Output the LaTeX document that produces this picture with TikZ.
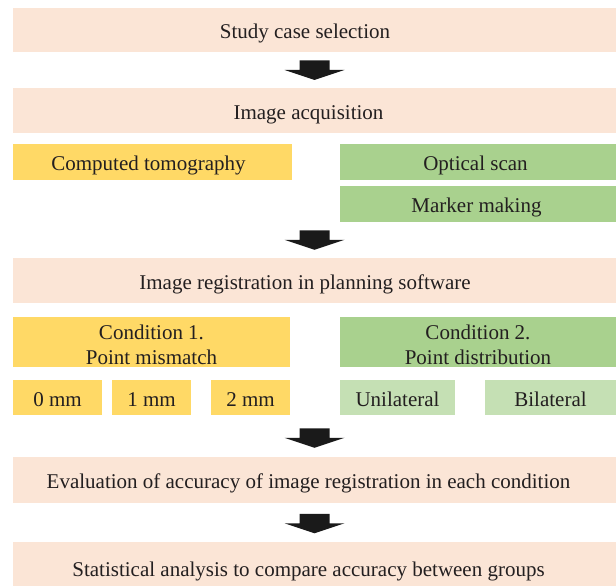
\documentclass[tikz,border=0pt]{standalone}
\usepackage{fontspec}
\setmainfont{Liberation Serif}
\usetikzlibrary{calc}
\definecolor{peach}{HTML}{FBE5D6}
\definecolor{gold}{HTML}{FFD966}
\definecolor{grn}{HTML}{A9D18E}
\definecolor{lgrn}{HTML}{C5E0B4}
\definecolor{ink}{HTML}{231F20}
\definecolor{arrowk}{HTML}{1A1A1A}
\newcommand{\lft}[2]{#2\hspace*{#1}}
\tikzset{
  boxbase/.style={draw=none, inner sep=0pt, text=ink, font=\fontsize{21}{25}\selectfont},
  box/.style={boxbase, text height=19pt, text depth=1.6pt},
  twoline/.style={boxbase, align=center},
  blockarrow/.pic={\fill[arrowk] (-15,9.5) -- (15,9.5) -- (15,0) -- (30,0) -- (0,-10) -- (-30,0) -- (-15,0) -- cycle;}
}
\begin{document}
\begin{tikzpicture}[x=1pt,y=1pt]
\useasboundingbox (0,0) rectangle (616,586);
\begin{scope}
\clip (0,0) rectangle (616,586);
\node[box, fill=peach, minimum width=603pt, minimum height=44pt] (b1) at (314.5,556) {\lft{19pt}{Study case selection}};
\node[box, fill=peach, minimum width=603pt, minimum height=45pt] (b2) at (314.5,475.5) {\lft{12pt}{Image acquisition}};
\node[box, fill=gold, minimum width=279pt, minimum height=36pt] (ct) at (152.5,424) {\lft{8pt}{Computed tomography}};
\node[box, fill=grn, minimum width=276pt, minimum height=36pt] (opt) at (478,424) {\lft{5pt}{Optical scan}};
\node[box, fill=grn, minimum width=276pt, minimum height=36pt] (mark) at (478,382) {\lft{3pt}{Marker making}};
\node[box, fill=peach, minimum width=603pt, minimum height=45pt] (b3) at (314.5,305.5) {\lft{19pt}{Image registration in planning software}};
\node[twoline, fill=gold, minimum width=277pt, minimum height=50pt] (c1) at (151.5,244) {\rule{0pt}{20pt}Condition 1.\\Point mismatch};
\node[twoline, fill=grn, minimum width=276pt, minimum height=50pt] (c2) at (478,244) {\rule{0pt}{20pt}Condition 2.\\Point distribution};
\node[box, fill=gold, minimum width=89pt, minimum height=35pt] (m0) at (57.5,188.5) {0 mm};
\node[box, fill=gold, minimum width=79pt, minimum height=35pt] (m1) at (151.5,188.5) {1 mm};
\node[box, fill=gold, minimum width=79pt, minimum height=35pt] (m2) at (250.5,188.5) {2 mm};
\node[box, fill=lgrn, minimum width=115pt, minimum height=35pt] (uni) at (397.5,188.5) {Unilateral};
\node[box, fill=lgrn, minimum width=131pt, minimum height=35pt] (bil) at (550.5,188.5) {Bilateral};
\node[box, fill=peach, minimum width=603pt, minimum height=46pt] (b4) at (314.5,106) {\lft{12pt}{Evaluation of accuracy of image registration in each condition}};
\node[box, fill=peach, minimum width=603pt, minimum height=51pt] (b5) at (314.5,18.5) {\lft{12pt}{Statistical analysis to compare accuracy between groups}};
\end{scope}
\coordinate (a1) at ($(b1.south)!0.5!(b2.north)$);
\coordinate (a2) at ($(b3.north)+(0,18)$);
\coordinate (a3) at ($(b4.north)+(0,19)$);
\coordinate (a4) at ($(b5.north)+(0,18.5)$);
\pic at (a1) {blockarrow};
\pic at (a2) {blockarrow};
\pic at (a3) {blockarrow};
\pic at (a4) {blockarrow};
\end{tikzpicture}
\end{document}
